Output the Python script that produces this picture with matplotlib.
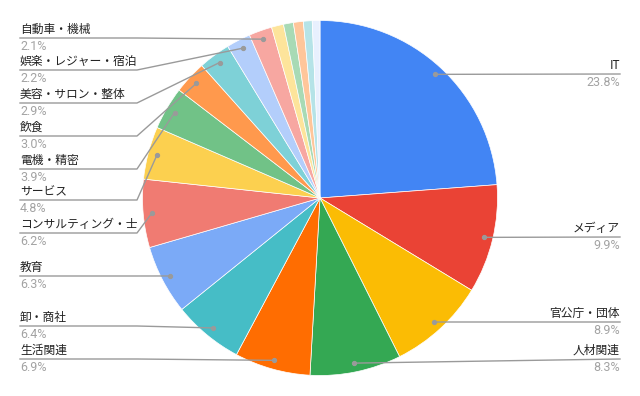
import numpy as np
import matplotlib
matplotlib.use("Agg")
import matplotlib.pyplot as plt

plt.rcParams['font.family'] = ['Noto Sans CJK JP', 'DejaVu Sans']

# industry share (%), clockwise from the top
labels = ["IT", "メディア", "官公庁・団体", "人材関連", "生活関連", "卸・商社", "教育",
          "コンサルティング・士", "サービス", "電機・精密", "飲食", "美容・サロン・整体",
          "娯楽・レジャー・宿泊", "自動車・機械", "", "", "", "", ""]
values = [23.8, 9.9, 8.9, 8.3, 6.9, 6.4, 6.3, 6.2, 4.8, 3.9, 3.0, 2.9, 2.2, 2.1,
          1.1, 0.9, 0.9, 0.8, 0.7]
colors = ["#4285F4", "#EA4335", "#FBBC04", "#34A853", "#FF6D01", "#46BDC6", "#7BAAF7",
          "#F07B72", "#FCD04F", "#71C287", "#FF994D", "#7ED1D7", "#B3CEFB", "#F7A7A1",
          "#FDE49B", "#A8DAB5", "#FFC69A", "#B5E3E7", "#E8F0FE"]

# label line heights (pixels from top), None = no label
label_y = [74, 237, 322, 359, 359, 326, 276, 233, 200, 169, 136, 103, 70, 38,
           None, None, None, None, None]

W, H = 640, 396
fig = plt.figure(figsize=(6.4, 3.96), dpi=100)
ax = fig.add_axes([0, 0, 1, 1])

cx, cy, r = 320, H - 198, 177.5
wedges, _ = ax.pie(values, colors=colors, startangle=90, counterclock=False,
                   center=(cx, cy), radius=r,
                   wedgeprops=dict(edgecolor='white', linewidth=0.5))
ax.set_xlim(0, W)
ax.set_ylim(0, H)
ax.set_aspect('equal')
ax.axis('off')

total = sum(values)
cum = 0.0
line_col = "#9a9a9a"
pct_font = dict(family=['Roboto', 'DejaVu Sans'], fontsize=9, color="#a3a3a3")
for lab, v, ly in zip(labels, values, label_y):
    mid = (cum + v / 2) / total * 2 * np.pi
    cum += v
    if ly is None:
        continue
    dx = cx + 0.95 * r * np.sin(mid)
    dy = cy + 0.95 * r * np.cos(mid)
    yy = H - ly
    pct = f"{v:.1f}%"
    if np.sin(mid) >= 0:
        ax.plot([dx, 620], [dy, yy], color=line_col, lw=1, zorder=3)
        ax.text(620, yy + 2, lab, ha='right', va='bottom', fontsize=8.5, color="#222222")
        ax.text(620, yy - 2, pct, ha='right', va='top', **pct_font)
    else:
        ax.plot([20, 137, dx], [yy, yy, dy], color=line_col, lw=1, zorder=3)
        ax.text(20, yy + 2, lab, ha='left', va='bottom', fontsize=8.5, color="#222222")
        ax.text(20, yy - 2, pct, ha='left', va='top', **pct_font)
    ax.plot(dx, dy, 'o', color=line_col, ms=2.8, zorder=4)

fig.savefig("out.png", dpi=100)
